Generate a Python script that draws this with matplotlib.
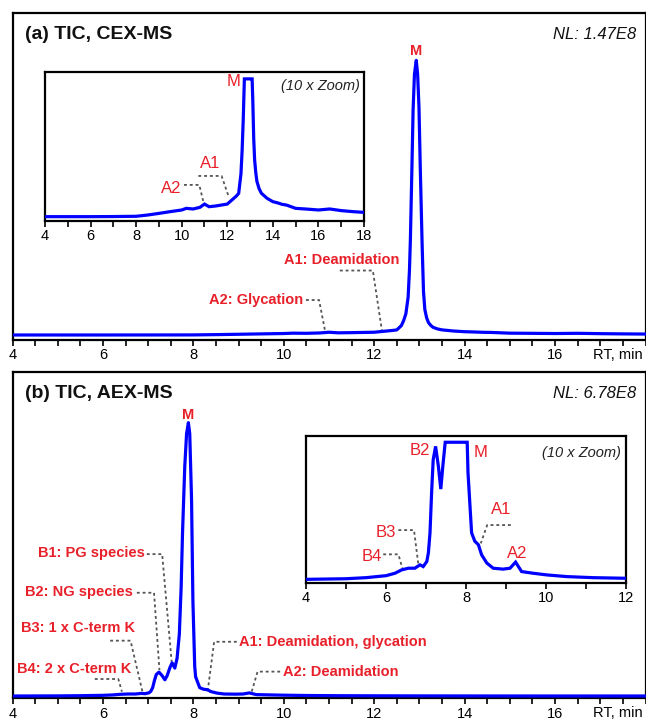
import matplotlib
matplotlib.use("Agg")
import matplotlib.pyplot as plt
import numpy as np

plt.rcParams['font.family'] = ['Liberation Sans', 'DejaVu Sans']

# ---- data (relative intensity, main peak = 100) ----
t_cex = [4.0, 5.0, 6.0, 7.0, 8.0, 8.5, 9.0, 9.5, 10.0, 10.2, 10.5, 10.8, 11.0, 11.2, 11.5,
         12.0, 12.2, 12.4, 12.5, 12.6, 12.65, 12.7, 12.75, 12.78, 12.8, 12.83, 12.86, 12.89,
         12.93, 12.96, 12.99, 13.02, 13.06, 13.09, 13.12, 13.16, 13.2, 13.25, 13.3, 13.4,
         13.5, 13.75, 14.0, 14.2, 14.4, 14.6, 15.0, 15.5, 16.0, 16.5, 17.0, 17.5, 18.0]
i_cex = [0.30, 0.30, 0.30, 0.31, 0.33, 0.43, 0.56, 0.70, 0.83, 0.96, 0.91, 1.04, 1.30, 1.09, 1.15,
         1.30, 1.62, 1.94, 2.15, 3.7, 5.5, 8.0, 14.0, 24.0, 35.0, 58.0, 82.0, 95.0,
         100.0, 95.0, 83.0, 60.0, 33.0, 16.0, 9.5, 6.5, 4.8, 3.8, 3.1, 2.5,
         2.15, 1.75, 1.49, 1.40, 1.28, 1.22, 0.96, 0.90, 0.83, 0.91, 0.78, 0.70, 0.64]

t_aex = [4.0, 5.0, 5.5, 6.0, 6.225, 6.39, 6.56, 6.72, 6.85, 6.93, 7.02, 7.06, 7.1, 7.14, 7.18,
         7.24, 7.31, 7.37, 7.42, 7.48, 7.53, 7.59, 7.64, 7.69, 7.73, 7.76, 7.81, 7.85, 7.89,
         7.92, 7.96, 7.99, 8.03, 8.05, 8.1, 8.14, 8.22, 8.31, 8.39, 8.52, 8.68, 8.93, 9.1,
         9.24, 9.39, 9.68, 10.02, 10.52, 11.18, 12.0, 13.0, 14.0, 15.0, 16.0, 17.0, 18.0]
i_aex = [0.20, 0.24, 0.31, 0.44, 0.60, 0.82, 0.93, 0.93, 1.15, 1.04, 1.37, 1.94, 3.25, 5.88, 8.05,
         8.92, 7.6, 6.12, 7.6, 10.5, 12.3, 10.4, 14.0, 22.8, 40.0, 59.5, 84.0, 96.0, 100.0,
         96.0, 72.0, 35.0, 11.0, 7.2, 5.0, 3.25, 2.7, 2.47, 1.81, 1.27, 0.93, 0.87, 0.93,
         1.33, 0.71, 0.60, 0.49, 0.38, 0.31, 0.27, 0.24, 0.22, 0.21, 0.20, 0.20, 0.20]

titles = ["(a) TIC, CEX-MS", "(b) TIC, AEX-MS"]
nl_labels = ["NL: 1.47E8", "NL: 6.78E8"]

# main-panel labels: (text, x, y, ha, leader points)
ann_cex = [
    ("A2: Glycation", 10.43, 13.0, 'right', [(10.49, 13.0), (10.78, 13.0), (10.92, 1.2)]),
    ("A1: Deamidation", 11.29, 27.6, 'center', [(11.24, 23.7), (11.97, 23.7), (12.17, 1.9)]),
]
ann_aex = [
    ("B1: PG species", 6.93, 52.3, 'right', [(6.97, 52.0), (7.31, 52.0), (7.52, 12.7)]),
    ("B2: NG species", 6.66, 38.3, 'right', [(6.75, 37.9), (7.13, 37.9), (7.25, 9.7)]),
    ("B3: 1 x C-term K", 6.71, 24.9, 'right', [(6.16, 20.4), (6.61, 20.4), (6.88, 1.4)]),
    ("B4: 2 x C-term K", 6.62, 10.1, 'right', [(5.82, 6.4), (6.34, 6.4), (6.42, 1.8)]),
    ("A1: Deamidation, glycation", 9.01, 20.0, 'left', [(8.96, 20.0), (8.46, 20.0), (8.32, 2.4)]),
    ("A2: Deamidation", 9.99, 9.1, 'left', [(9.92, 9.1), (9.42, 9.1), (9.28, 1.2)]),
]
# inset labels
ins_cex = [
    ("M", 12.6, 11.0, 'right', None),
    ("A1", 11.24, 4.54, 'center', [(10.73, 3.53), (11.75, 3.53), (12.07, 1.84)]),
    ("A2", 10.0, 2.55, 'right', [(10.1, 2.82), (10.77, 2.82), (10.95, 1.49)]),
]
ins_aex = [
    ("B2", 7.1, 8.68, 'right', None),
    ("M", 8.2, 8.5, 'left', None),
    ("B3", 6.24, 3.26, 'right', [(6.31, 3.43), (6.7, 3.43), (6.81, 1.14)]),
    ("B4", 5.89, 1.68, 'right', [(5.93, 1.84), (6.31, 1.84), (6.41, 0.92)]),
    ("A1", 8.87, 4.75, 'center', [(9.12, 3.76), (8.53, 3.76), (8.37, 2.56)]),
    ("A2", 9.27, 1.9, 'center', None),
]

RED = '#e8202a'
BLUE = '#0000ff'
LEAD = dict(color='#555555', lw=1.3, ls=(0, (1.6, 1.6)))

W, H = 646, 723
fig = plt.figure(figsize=(W / 100, H / 100), dpi=100)


def px_axes(left, top, right, bottom):
    return fig.add_axes([left / W, 1 - bottom / H, (right - left) / W, (bottom - top) / H])


def style(ax, lw=1.6):
    for s in ax.spines.values():
        s.set_linewidth(lw)
        s.set_color('black')
    ax.set_yticks([])
    ax.tick_params(axis='x', which='both', direction='out', length=4, width=1.2,
                   labelsize=10.5, pad=2)


def leader(ax, pts):
    xs = [p[0] for p in pts]
    ys = [p[1] for p in pts]
    ax.plot(xs, ys, **LEAD, zorder=3)


panels = [
    (t_cex, i_cex, (13.3, 340), (-1.52, 117.1), 12.93, 103.3, ann_cex,
     (45, 71.7, 364, 220.7), (4, 18), (-0.02, 11.8), 11.23, ins_cex, (0.987, 0.904)),
    (t_aex, i_aex, (372, 698.3), (-0.64, 118.5), 7.88, 102.8, ann_aex,
     (306, 436, 626, 582.7), (4, 12), (-0.02, 9.6), 9.19, ins_aex, (0.984, 0.886)),
]

for k, (t, y, (top, bot), ylim, mx, my, anns, ibox, ixl, iyl, clip, ianns, zpos) in enumerate(panels):
    ax = px_axes(12.5, top, 645.5, bot)
    ax.plot(t, y, color=BLUE, lw=2.3, zorder=4, solid_joinstyle='round')
    ax.set_xlim(4, 18)
    ax.set_ylim(*ylim)
    style(ax)
    ax.set_xticks(np.arange(4, 17, 2))
    ax.set_xticks(np.arange(4, 18.01, 0.5), minor=True)
    ax.text(0.995, -0.025, "RT, min", transform=ax.transAxes, ha='right', va='top', fontsize=10.5)
    ax.text(0.019, 0.934, titles[k], transform=ax.transAxes, ha='left', va='center',
            fontsize=14, fontweight='bold', color='#111111')
    ax.text(0.986, 0.934, nl_labels[k], transform=ax.transAxes, ha='right', va='center',
            fontsize=12, style='italic', color='#111111')
    ax.text(mx, my, "M", color=RED, fontsize=10.5, fontweight='bold', ha='center', va='center')
    for txt, x, yy, ha, pts in anns:
        ax.text(x, yy, txt, color=RED, fontsize=10.5, fontweight='bold', ha=ha, va='center')
        leader(ax, pts)

    # zoomed inset
    l, tp, r, b = ibox
    ia = px_axes(l, tp, r, b)
    ia.set_facecolor('white')
    ia.plot(t, np.minimum(y, clip), color=BLUE, lw=2.3, zorder=4, solid_joinstyle='miter')
    ia.set_xlim(*ixl)
    ia.set_ylim(*iyl)
    style(ia)
    ia.set_xticks(np.arange(ixl[0], ixl[1] + 0.01, 2))
    ia.set_xticks(np.arange(ixl[0], ixl[1] + 0.01, 1), minor=True)
    ia.text(zpos[0], zpos[1], "(10 x Zoom)", transform=ia.transAxes, ha='right', va='center',
            fontsize=10.5, style='italic', color='#222222')
    for txt, x, yy, ha, pts in ianns:
        ia.text(x, yy, txt, color=RED, fontsize=12, ha=ha, va='center')
        if pts:
            leader(ia, pts)

fig.savefig("out.png", dpi=100)
